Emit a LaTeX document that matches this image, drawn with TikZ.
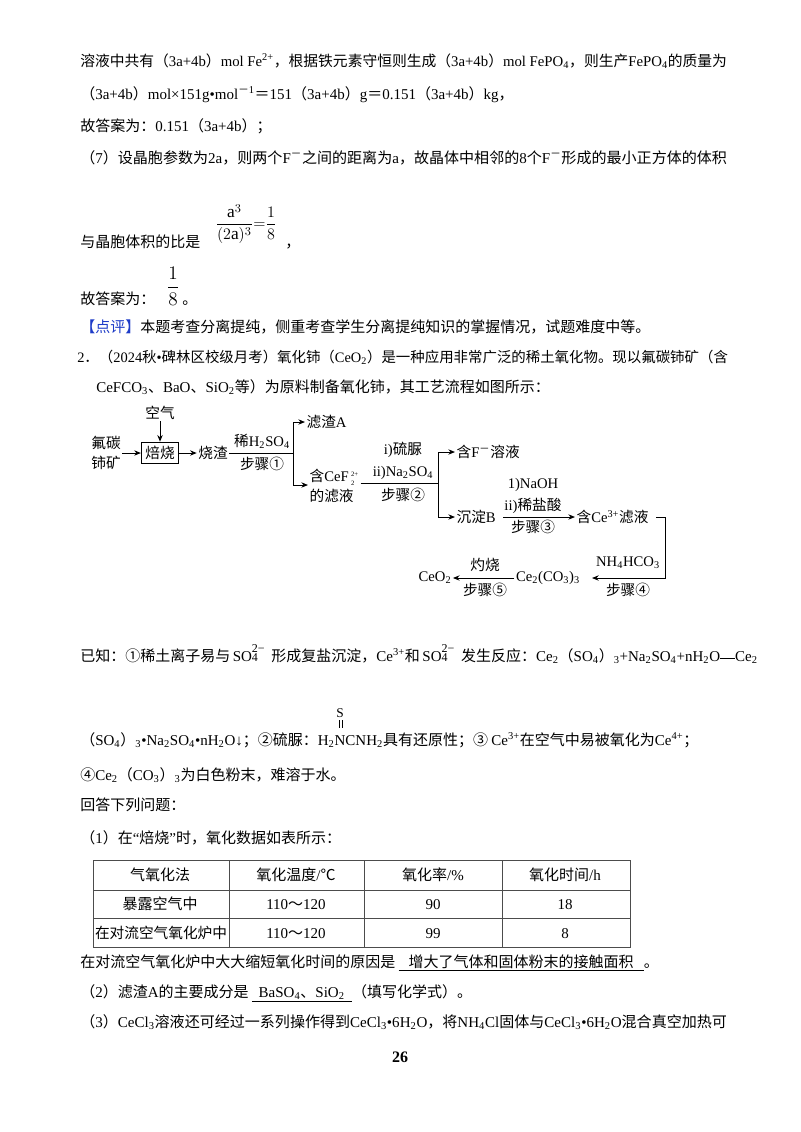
\documentclass[tikz,border=0pt]{standalone}
\usepackage{fontspec}
\usepackage{graphicx}
\usetikzlibrary{arrows.meta}
\setmainfont{Liberation Serif}
\newfontfamily\cjk{Noto Sans CJK SC}
\newfontfamily\latin{Liberation Serif}
\XeTeXinterchartokenstate=1
\newXeTeXintercharclass\cjkcl
\newcount\cc
\def\setcls#1#2{\cc=#1\relax\loop\XeTeXcharclass\cc=\cjkcl\ifnum\cc<#2\advance\cc by 1\repeat}
\setcls{"3000}{"303F}
\setcls{"4E00}{"9FFF}
\setcls{"FF00}{"FFEF}
\setcls{"2460}{"2473}
\XeTeXcharclass"2103=\cjkcl
\XeTeXinterchartoks 0 \cjkcl = {\cjk}
\XeTeXinterchartoks 4095 \cjkcl = {\cjk}
\XeTeXinterchartoks \cjkcl 0 = {\latin}
\XeTeXinterchartoks 4095 0 = {\latin}
\newcommand\dn[1]{\textsubscript{#1}}
\newcommand\upp[1]{\textsuperscript{#1}}
\newcommand\ud[2]{$\,{}^{\mbox{\tiny #1}}_{\mbox{\tiny #2}}$}
\newcommand\sofour{\,SO\rlap{\raisebox{1.25ex}{\small 2−}}\raisebox{-0.1ex}{\small 4}\hspace{0.9em}}
\newcommand\fitw[2]{\resizebox{#1}{!}{#2}}
\definecolor{pjblue}{RGB}{30,60,200}
\begin{document}
\begin{tikzpicture}[x=0.75pt,y=-0.75pt,
  txt/.style={inner sep=0pt,anchor=base west,font=\fontsize{11.25pt}{14pt}\selectfont},
  fl/.style={inner sep=1pt,font=\fontsize{11pt}{13pt}\selectfont},
  arr/.style={-{Stealth[length=5pt,width=4pt]},line width=0.7pt},
  ln/.style={line width=0.7pt}]
\fill[white] (0,0) rectangle (800,1132);
\useasboundingbox (0,0) rectangle (800,1132);
% top text
\node[txt] (l1) at (80,66) {\fitw{485pt}{溶液中共有（3a+4b）mol Fe\upp{2+}，根据铁元素守恒则生成（3a+4b）mol FePO\dn{4}，则生产FePO\dn{4}的质量为}};
\node[txt] (l2) at (80,99) {（3a+4b）mol×151g•mol\upp{－1}＝151（3a+4b）g＝0.151（3a+4b）kg，};
\node[txt] (l3) at (80,131) {故答案为：0.151（3a+4b）；};
\node[txt] (l4) at (80,163) {\fitw{485pt}{（7）设晶胞参数为2a，则两个F\upp{－}之间的距离为a，故晶体中相邻的8个F\upp{－}形成的最小正方体的体积}};
\node[txt] (l5) at (80,247) {与晶胞体积的比是};
\node[inner sep=0pt,font=\fontsize{13pt}{15pt}\selectfont] (f1) at (246,224) {$\displaystyle\frac{\mathrm{a}^3}{(2\mathrm{a})^3}{=}\frac{1}{8}$};
\node[txt] (c1) at (285,247) {，};
\node[txt] (l6) at (80,304) {故答案为：};
\node[inner sep=0pt,font=\fontsize{14pt}{15pt}\selectfont] (f2) at (173,286) {$\displaystyle\frac{1}{8}$};
\node[txt] (c2) at (182,304) {。};
\node[txt] (l7) at (80,332) {{\color{pjblue}【点评】}本题考查分离提纯，侧重考查学生分离提纯知识的掌握情况，试题难度中等。};
\node[txt] (l8) at (77,362) {\fitw{488pt}{2．（2024秋•碑林区校级月考）氧化铈（CeO\dn{2}）是一种应用非常广泛的稀土氧化物。现以氟碳铈矿（含}};
\node[txt] (l9) at (96,392) {CeFCO\dn{3}、BaO、SiO\dn{2}等）为原料制备氧化铈，其工艺流程如图所示：};
% flowchart
\node[fl] (air) at (160,413) {空气};
\node[fl,draw,line width=0.7pt,inner sep=3pt] (roast) at (160,453) {焙烧};
\node[fl,align=center,font=\fontsize{11pt}{15pt}\selectfont] (ore) at (106,453) {氟碳\\铈矿};
\node[fl] (slag) at (213,453) {烧渣};
\draw[arr] (ore) -- (roast);
\draw[arr] (air) -- (roast);
\draw[arr] (roast) -- (slag);
\coordinate (j1) at (293,453);
\draw[ln] (slag.east) -- (j1);
\node[fl] (s1a) at (262,441) {稀H\dn{2}SO\dn{4}};
\node[fl] (s1b) at (262,464) {步骤①};
\node[fl,anchor=west] (A) at (305,422) {滤渣A};
\node[fl,anchor=west,align=left,font=\fontsize{11pt}{15pt}\selectfont] (filt) at (308,486) {含CeF\ud{2+}{2}\\的滤液};
\draw[arr] (293,422) -- (A.west);
\draw[arr] (293,485) -- (filt.west|-0,485);
\draw[ln] (293,422) -- (293,485);
\coordinate (j2) at (438,483);
\draw[ln] (filt.east|-0,483) -- (j2);
\node[fl] (s2a) at (403,450) {i)硫脲};
\node[fl] (s2b) at (403,473) {ii)Na\dn{2}SO\dn{4}};
\node[fl] (s2c) at (403,495) {步骤②};
\node[fl,anchor=west] (F) at (455,452) {含F\upp{－}溶液};
\node[fl,anchor=west] (B) at (455,517) {沉淀B};
\draw[ln] (438,452) -- (438,517);
\draw[arr] (438,452) -- (F.west);
\draw[arr] (438,517) -- (B.west);
\node[fl,anchor=west] (Ce3) at (575,517) {含Ce\upp{3+}滤液};
\draw[arr] (B.east) ++(6,0) -- (Ce3.west);
\node[fl] (s3a) at (533,485) {1)NaOH};
\node[fl] (s3b) at (533,506) {ii)稀盐酸};
\node[fl] (s3c) at (533,527) {步骤③};
\node[fl] (carb) at (548,578) {Ce\dn{2}(CO\dn{3})\dn{3}};
\draw[arr] (Ce3.east) ++(6,0) -- (665,517) -- (665,578) -- (592,578);
\node[fl] (s4a) at (628,563) {NH\dn{4}HCO\dn{3}};
\node[fl] (s4b) at (628,590) {步骤④};
\node[fl] (ceo) at (435,578) {CeO\dn{2}};
\draw[arr] (carb.west) -- (ceo.east);
\node[fl] (s5a) at (485,565) {灼烧};
\node[fl] (s5b) at (485,590) {步骤⑤};
% known
\node[txt] (k1) at (80,661) {已知：①稀土离子易与\sofour 形成复盐沉淀，Ce\upp{3+}和\sofour 发生反应：Ce\dn{2}（SO\dn{4}）\dn{3}+Na\dn{2}SO\dn{4}+nH\dn{2}O\rule[0.3ex]{1em}{0.15ex}Ce\dn{2}};
\node[txt] (k2) at (80,745) {（SO\dn{4}）\dn{3}•Na\dn{2}SO\dn{4}•nH\dn{2}O↓；②硫脲：H\dn{2}NCNH\dn{2}具有还原性；③ Ce\upp{3+}在空气中易被氧化为Ce\upp{4+}；};
\node[inner sep=0pt,font=\fontsize{10pt}{12pt}\selectfont] (S) at (340,713) {S};
\draw[line width=0.4pt] (339,720) -- (339,728) (342,720) -- (342,728);
\node[txt] (k3) at (80,780) {④Ce\dn{2}（CO\dn{3}）\dn{3}为白色粉末，难溶于水。};
\node[txt] (q0) at (80,810) {回答下列问题：};
\node[txt] (q1) at (80,843) {（1）在“焙烧”时，氧化数据如表所示：};
% table
\draw[line width=0.5pt,black!70] (93,860) rectangle (630,947);
\foreach \yy in {890,918} \draw[line width=0.5pt,black!70] (93,\yy) -- (630,\yy);
\foreach \xx in {229,364,502} \draw[line width=0.5pt,black!70] (\xx,860) -- (\xx,947);
\node[txt,anchor=base] (t11) at (160,880) {气氧化法};
\node[txt,anchor=base] (t12) at (296,880) {氧化温度/℃};
\node[txt,anchor=base] (t13) at (433,880) {氧化率/\%};
\node[txt,anchor=base] (t14) at (565,880) {氧化时间/h};
\node[txt,anchor=base] (t21) at (160,909) {暴露空气中};
\node[txt,anchor=base] (t22) at (296,909) {110～120};
\node[txt,anchor=base] (t23) at (433,909) {90};
\node[txt,anchor=base] (t24) at (565,909) {18};
\node[txt,anchor=base] (t31) at (161,938) {\fitw{99pt}{在对流空气氧化炉中}};
\node[txt,anchor=base] (t32) at (296,938) {110～120};
\node[txt,anchor=base] (t33) at (433,938) {99};
\node[txt,anchor=base] (t34) at (565,938) {8};
\node[txt] (q2) at (80,967) {在对流空气氧化炉中大大缩短氧化时间的原因是 \underline{\ \ \ 增大了气体和固体粉末的接触面积\ \ \ }。};
\node[txt] (q3) at (80,997) {（2）滤渣A的主要成分是 \underline{\ \ BaSO\dn{4}、SiO\dn{2}\ \ }（填写化学式）。};
\node[txt] (q4) at (80,1027) {\fitw{485pt}{（3）CeCl\dn{3}溶液还可经过一系列操作得到CeCl\dn{3}•6H\dn{2}O，将NH\dn{4}Cl固体与CeCl\dn{3}•6H\dn{2}O混合真空加热可}};
\node[inner sep=0pt,font=\bfseries\fontsize{12pt}{14pt}\selectfont] (pg) at (400,1057) {26};
\end{tikzpicture}
\end{document}
